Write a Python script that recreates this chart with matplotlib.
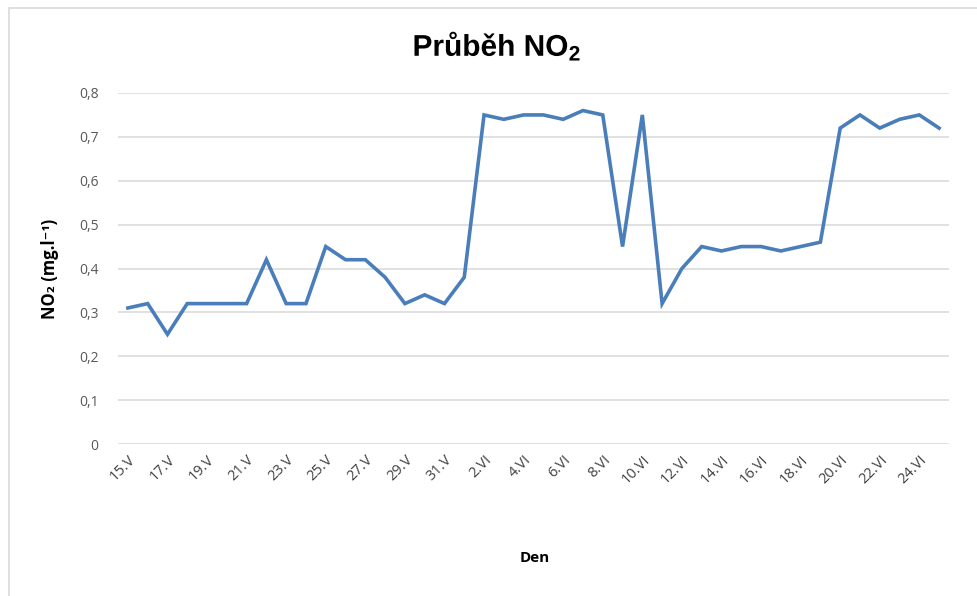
import matplotlib.pyplot as plt
import numpy as np
from matplotlib.patches import Rectangle, PathPatch
from matplotlib.textpath import TextPath
from matplotlib.font_manager import FontProperties
from matplotlib.transforms import Affine2D, IdentityTransform

# daily NO2 readings, 15 May - 25 June
days = ['15.V', '16.V', '17.V', '18.V', '19.V', '20.V', '21.V', '22.V', '23.V',
        '24.V', '25.V', '26.V', '27.V', '28.V', '29.V', '30.V', '31.V',
        '1.VI', '2.VI', '3.VI', '4.VI', '5.VI', '6.VI', '7.VI', '8.VI', '9.VI',
        '10.VI', '11.VI', '12.VI', '13.VI', '14.VI', '15.VI', '16.VI', '17.VI',
        '18.VI', '19.VI', '20.VI', '21.VI', '22.VI', '23.VI', '24.VI', '25.VI']
no2 = [0.31, 0.32, 0.25, 0.32, 0.32, 0.32, 0.32, 0.42, 0.32,
       0.32, 0.45, 0.42, 0.42, 0.38, 0.32, 0.34, 0.32,
       0.38, 0.75, 0.74, 0.75, 0.75, 0.74, 0.76, 0.75, 0.45,
       0.75, 0.32, 0.40, 0.45, 0.44, 0.45, 0.45, 0.44,
       0.45, 0.46, 0.72, 0.75, 0.72, 0.74, 0.75, 0.72]
y_ticks = [0, 0.1, 0.2, 0.3, 0.4, 0.5, 0.6, 0.7, 0.8]
y_tick_labels = ['0', '0,1', '0,2', '0,3', '0,4', '0,5', '0,6', '0,7', '0,8']

plt.rcParams['font.family'] = ['Open Sans', 'DejaVu Sans']
plt.rcParams['mathtext.fontset'] = 'custom'
plt.rcParams['mathtext.rm'] = 'Liberation Sans:bold'
plt.rcParams['mathtext.it'] = 'Liberation Sans:bold'

W, H = 978, 596
fig = plt.figure(figsize=(W / 100, H / 100), dpi=100)
fig.patches.append(Rectangle((9 / W, -0.01), 1.2, 1 - 8 / H + 0.01,
                             transform=fig.transFigure, fill=False,
                             edgecolor='#d9d9d9', linewidth=1.2))

ax = fig.add_axes([118 / W, 1 - 444 / H, (949 - 118) / W, (444 - 93) / H])

x = np.arange(len(days))
ax.plot(x, no2, color='#4a7ebb', linewidth=2.6, solid_joinstyle='miter')

ax.set_xlim(-0.5, len(days) - 0.5)
ax.set_ylim(0, 0.8)
ax.set_yticks(y_ticks)
ax.set_yticklabels(y_tick_labels)
ax.set_xticks(x[::2])
ax.set_xticklabels(days[::2], rotation=45, ha='right', rotation_mode='anchor')

ax.grid(axis='y', color='#d9d9d9', linewidth=1.1)
ax.set_axisbelow(True)
for s in ax.spines.values():
    s.set_visible(False)
ax.tick_params(length=0, labelsize=10, colors='#595959')
ax.tick_params(axis='y', pad=14)
ax.tick_params(axis='x', pad=6, labelsize=10.5)
for lab in ax.get_xticklabels():
    lab.set_color('#404040')

ax.set_ylabel('NO₂ (mg.l⁻¹)', fontsize=12, fontweight='bold')
ax.yaxis.set_label_coords(-0.071, 0.5)
fig.text(535 / W, 1 - 558 / H, 'Den', ha='center', va='center',
         fontsize=11, fontweight='bold')

# condensed bold title: squeeze the glyph outlines horizontally
tp = TextPath((0, 0), 'Průběh NO$_2$', size=30,
              prop=FontProperties(family='Liberation Sans', weight='bold'))
ext = tp.get_extents()
sx = 165 / ext.width
tr = Affine2D().translate(-ext.x0 - ext.width / 2, 0).scale(sx, 1).translate(497, H - 56)
fig.patches.append(PathPatch(tr.transform_path(tp), facecolor='black',
                             edgecolor='none', transform=IdentityTransform()))

fig.savefig('out.png', dpi=100)
